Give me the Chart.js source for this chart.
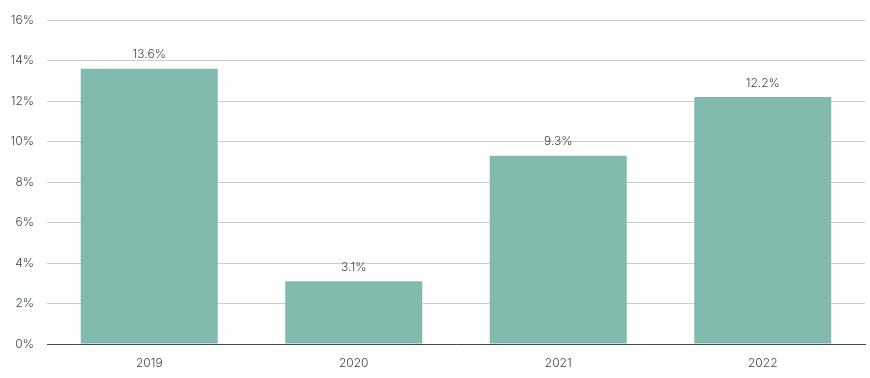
<!DOCTYPE html>
<html>
<head>
<meta charset="utf-8">
<script src="https://cdn.jsdelivr.net/npm/chart.js@4"></script>
<style>
  html, body { margin: 0; padding: 0; background: #fff; }
  #wrap { width: 870px; height: 378px; }
</style>
</head>
<body>
<div id="wrap"><canvas id="chart"></canvas></div>
<script>
"use strict";
const years = ['2019', '2020', '2021', '2022'];
const growth = [13.6, 3.1, 9.3, 12.2];
const barColor = '#82bbad';
const textColor = '#3b4848';

// draw the value above each bar
const valueLabels = {
    id: 'valueLabels',
    afterDatasetsDraw(chart) {
        const ctx = chart.ctx;
        const meta = chart.getDatasetMeta(0);
        ctx.save();
        ctx.font = '300 12px Inter, sans-serif';
        ctx.fillStyle = textColor;
        ctx.textAlign = 'center';
        ctx.textBaseline = 'middle';
        meta.data.forEach((bar, i) => {
            ctx.fillText(growth[i].toFixed(1) + '%', bar.x, bar.y - 14);
        });
        ctx.restore();
    }
};

new Chart(document.getElementById('chart'), {
    type: 'bar',
    data: {
        labels: years,
        datasets: [{
            data: growth,
            backgroundColor: barColor,
            borderWidth: 0,
            barPercentage: 0.67,
            categoryPercentage: 1
        }]
    },
    plugins: [valueLabels],
    options: {
        responsive: true,
        maintainAspectRatio: false,
        animation: false,
        layout: { padding: { top: 17, right: 5, bottom: 0, left: 0 } },
        plugins: {
            legend: { display: false },
            tooltip: { enabled: false }
        },
        scales: {
            x: {
                grid: { display: false, drawTicks: false },
                border: { display: true, color: '#3d4f4f', width: 1 },
                ticks: {
                    color: textColor,
                    font: { family: 'Inter, sans-serif', size: 12, weight: '300' },
                    padding: 12
                },
                afterFit: s => { s.height = 34; }
            },
            y: {
                min: 0,
                max: 16,
                grid: { color: '#cccccc', drawTicks: false },
                border: { display: false },
                ticks: {
                    stepSize: 2,
                    color: textColor,
                    font: { family: 'Inter, sans-serif', size: 12, weight: '300' },
                    padding: 13,
                    callback: v => v + '%'
                },
                afterFit: s => { s.width = 47; }
            }
        }
    }
});
</script>
</body>
</html>
